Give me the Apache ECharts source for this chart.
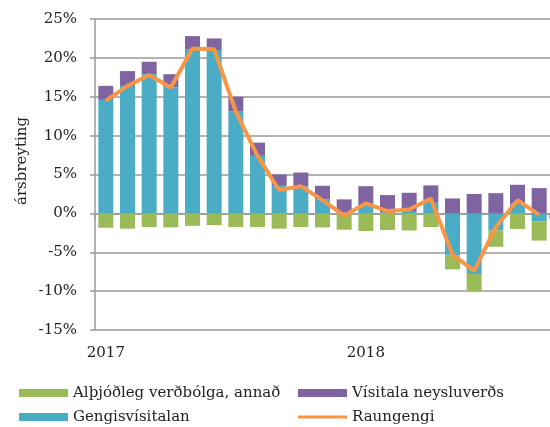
<!DOCTYPE html>
<html>
<head>
<meta charset="utf-8">
<script src="https://cdn.jsdelivr.net/npm/echarts@6/dist/echarts.min.js"></script>
<style>
  html, body { margin: 0; padding: 0; background: #fff; }
  #chart { width: 550px; height: 427px; }
</style>
</head>
<body>
<div id="chart"></div>
<script>
// monthly, jan 2017 - sep 2018
const months = [
  '2017-01', '2017-02', '2017-03', '2017-04', '2017-05', '2017-06',
  '2017-07', '2017-08', '2017-09', '2017-10', '2017-11', '2017-12',
  '2018-01', '2018-02', '2018-03', '2018-04', '2018-05', '2018-06',
  '2018-07', '2018-08', '2018-09',
]
const gengi = [14.6, 16.4, 17.9, 16.2, 21.1, 21.0, 13.1, 7.4, 3.55, 3.45, 1.8, 0.1,
  1.0, 0.1, 0.3, 1.37, -5.4, -7.8, -2.2, 1.24, -1.0]
const annad = [-1.85, -1.97, -1.75, -1.8, -1.6, -1.5, -1.75, -1.75, -1.97, -1.75, -1.8, -2.1,
  -2.27, -2.14, -2.2, -1.75, -1.8, -2.2, -2.1, -2.0, -2.5]
const vnv = [1.8, 1.9, 1.6, 1.7, 1.7, 1.5, 1.9, 1.7, 1.45, 1.8, 1.75, 1.7,
  2.5, 2.25, 2.35, 2.23, 1.92, 2.5, 2.6, 2.44, 3.25]
const raungengi = [14.5, 16.4, 17.8, 16.2, 21.2, 21.1, 13.1, 7.4, 3.0, 3.5, 1.7, -0.3,
  1.3, 0.3, 0.5, 1.9, -5.3, -7.4, -1.75, 1.7, -0.2]

const FONT = 'DejaVu Serif'
const GRID_COLOR = '#9a9a9a'
const legendText = { fontSize: 15, color: '#222', fontFamily: FONT, lineHeight: 16 }

// one legend per item, laid out as 2x2 like the original
function legendItem(name, left, top, h, icon) {
  return {
    left: left,
    top: top,
    padding: 0,
    itemWidth: 49,
    itemHeight: h,
    textStyle: legendText,
    data: [{ name: name, icon: icon }],
  }
}

const chart = echarts.init(document.getElementById('chart'), null, { renderer: 'canvas' })

const option = {
  animation: false,
  textStyle: { fontFamily: FONT },
  grid: { left: 95, top: 19, right: -7, bottom: 97 },
  graphic: [
    {
      type: 'text',
      x: 22,
      y: 161,
      rotation: Math.PI / 2,
      style: {
        text: 'ársbreyting',
        font: '15px ' + FONT,
        fill: '#222',
        align: 'center',
        verticalAlign: 'middle',
      },
    },
  ],
  legend: [
    legendItem('Alþjóðleg verðbólga, annað', 19, 385, 8, 'rect'),
    legendItem('Gengisvísitalan', 19, 409, 8, 'rect'),
    legendItem('Vísitala neysluverðs', 298, 385, 8, 'rect'),
    legendItem('Raungengi', 298, 409, 3, 'rect'),
  ],
  xAxis: [
    {
      // labels at the bottom
      type: 'category',
      data: months,
      position: 'bottom',
      axisLine: { show: false, onZero: false },
      axisTick: { show: false },
      axisLabel: {
        interval: (i, v) => v.endsWith('-01'),
        formatter: (v) => v.slice(0, 4),
        fontSize: 15,
        color: '#222',
        margin: 16,
      },
    },
    {
      // axis line through zero, with year tick
      type: 'category',
      data: months,
      position: 'bottom',
      axisLine: { show: true, onZero: true, lineStyle: { color: GRID_COLOR, width: 1.5 } },
      axisTick: {
        show: true,
        length: 5,
        interval: (i) => i === 12,
        lineStyle: { color: GRID_COLOR, width: 1.5 },
      },
      axisLabel: { show: false },
    },
  ],
  yAxis: {
    type: 'value',
    min: -15,
    max: 25,
    interval: 5,
    axisLine: { show: true, lineStyle: { color: GRID_COLOR, width: 1.5 } },
    axisTick: { show: true, length: 5, lineStyle: { color: GRID_COLOR, width: 1.5 } },
    splitLine: { show: true, lineStyle: { color: GRID_COLOR, width: 1.5 } },
    axisLabel: {
      formatter: '{value}%',
      fontSize: 15,
      color: '#222',
      margin: 18,
    },
  },
  series: [
    {
      name: 'Gengisvísitalan',
      type: 'bar',
      stack: 'a',
      barWidth: 15,
      itemStyle: { color: '#4bacc6' },
      data: gengi,
    },
    {
      name: 'Alþjóðleg verðbólga, annað',
      type: 'bar',
      stack: 'a',
      barWidth: 15,
      itemStyle: { color: '#9bbb59' },
      data: annad,
    },
    {
      name: 'Vísitala neysluverðs',
      type: 'bar',
      stack: 'a',
      barWidth: 15,
      itemStyle: { color: '#8064a2' },
      data: vnv,
    },
    {
      name: 'Raungengi',
      type: 'line',
      symbol: 'none',
      lineStyle: { color: '#f79646', width: 4 },
      itemStyle: { color: '#f79646' },
      z: 5,
      data: raungengi,
    },
  ],
}

chart.setOption(option)
</script>
</body>
</html>
